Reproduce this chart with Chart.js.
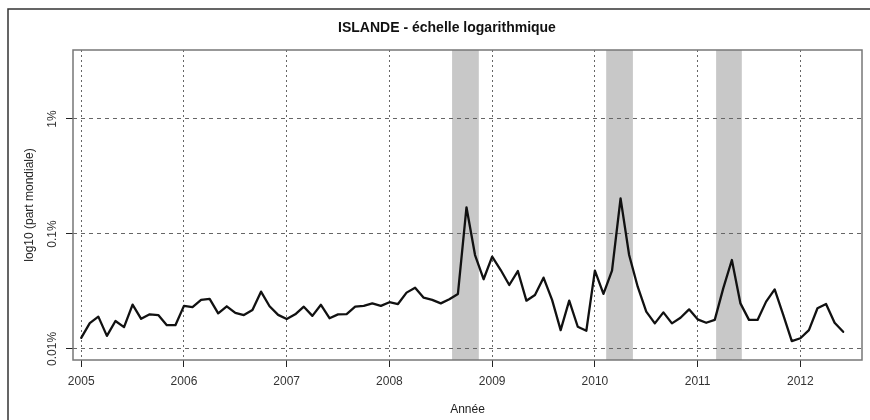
<!DOCTYPE html>
<html lang="fr">
<head>
<meta charset="utf-8">
<title>ISLANDE - échelle logarithmique</title>
<script src="https://cdn.jsdelivr.net/npm/chart.js@4.4.1/dist/chart.umd.min.js"></script>
<style>
  html, body { margin: 0; padding: 0; background: #fff; }
  #cadre { position: relative; width: 870px; height: 420px; }
</style>
</head>
<body>
<div id="cadre"><canvas id="graphique" width="870" height="420"></canvas></div>
<script>
// Données mensuelles, de janvier 2005 à juin 2012 (part mondiale en %)
const debut = 2005;
const annees = [2005, 2006, 2007, 2008, 2009, 2010, 2011, 2012];
const partMondiale = [
  0.0125, 0.0168, 0.0191, 0.0130, 0.0175, 0.0155, 0.0243, 0.0183, 0.0200, 0.0197, 0.0161, 0.0161,
  0.0237, 0.0231, 0.0267, 0.0273, 0.0204, 0.0235, 0.0206, 0.0197, 0.0218, 0.0315, 0.0235, 0.0198,
  0.0182, 0.0200, 0.0233, 0.0194, 0.0242, 0.0185, 0.0200, 0.0201, 0.0233, 0.0237, 0.0249, 0.0237,
  0.0255, 0.0246, 0.0309, 0.0341, 0.0279, 0.0267, 0.0249, 0.0271, 0.0301, 0.1706, 0.0656, 0.0404,
  0.0635, 0.0486, 0.0360, 0.0476, 0.0263, 0.0295, 0.0417, 0.0267, 0.0146, 0.0263, 0.0156, 0.0144,
  0.0480, 0.0301, 0.0480, 0.2042, 0.0656, 0.0348, 0.0211, 0.0167, 0.0208, 0.0167, 0.0187, 0.0221,
  0.0181, 0.0169, 0.0179, 0.0338, 0.0594, 0.0249, 0.0179, 0.0179, 0.0258, 0.0330, 0.0198, 0.0117,
  0.0124, 0.0146, 0.0226, 0.0246, 0.0169, 0.0141
];
// Périodes grisées (début, fin), en années
const periodes = [[2008.61, 2008.87], [2010.11, 2010.37], [2011.18, 2011.43]];
const ticksY = [0.01, 0.1, 1];
const labelsY = ['0.01%', '0.1%', '1%'];

const POLICE = '"Liberation Sans", Arial, sans-serif';
Chart.defaults.font.family = POLICE;
Chart.defaults.font.size = 12;
Chart.defaults.color = '#333';

const points = partMondiale.map((v, i) => ({ x: debut + i / 12, y: v }));

// Bandes grises + cadre extérieur, avant la grille
const fond = {
  id: 'fond',
  beforeDraw(chart) {
    const { ctx, chartArea, scales: { x } } = chart;
    ctx.save();
    ctx.fillStyle = '#c8c8c8';
    periodes.forEach(([a, b]) => {
      const x1 = x.getPixelForValue(a);
      const x2 = x.getPixelForValue(b);
      ctx.fillRect(x1, chartArea.top, x2 - x1, chartArea.bottom - chartArea.top);
    });
    ctx.strokeStyle = '#333';
    ctx.lineWidth = 1.5;
    ctx.beginPath();
    ctx.moveTo(8, 420);
    ctx.lineTo(8, 9);
    ctx.lineTo(870, 9);
    ctx.stroke();
    ctx.restore();
  }
};

// Boîte du graphique, titre et étiquettes verticales de l'axe y
const textes = {
  id: 'textes',
  afterDraw(chart) {
    const { ctx, chartArea, scales: { y } } = chart;
    ctx.save();
    ctx.strokeStyle = '#777';
    ctx.lineWidth = 1.5;
    ctx.strokeRect(chartArea.left, chartArea.top, chartArea.right - chartArea.left, chartArea.bottom - chartArea.top);

    ctx.fillStyle = '#111';
    ctx.font = 'bold 14px ' + POLICE;
    ctx.textAlign = 'center';
    ctx.textBaseline = 'middle';
    ctx.fillText('ISLANDE - échelle logarithmique', 447, 28);

    ctx.fillStyle = '#333';
    ctx.font = '12px ' + POLICE;
    ticksY.forEach((v, i) => {
      ctx.save();
      ctx.translate(53, y.getPixelForValue(v));
      ctx.rotate(-Math.PI / 2);
      ctx.fillText(labelsY[i], 0, 0);
      ctx.restore();
    });
    ctx.restore();
  }
};

new Chart(document.getElementById('graphique'), {
  type: 'line',
  data: {
    datasets: [{
      data: points,
      borderColor: '#111',
      borderWidth: 2.3,
      borderJoinStyle: 'round',
      borderCapStyle: 'round',
      pointRadius: 0,
      tension: 0,
      fill: false
    }]
  },
  options: {
    responsive: false,
    devicePixelRatio: 1,
    animation: false,
    layout: { padding: { top: 50, right: 8, left: 0, bottom: 0 } },
    plugins: {
      legend: { display: false },
      tooltip: { enabled: false },
      title: { display: false }
    },
    scales: {
      x: {
        type: 'linear',
        min: 2004.92,
        max: 2012.6,
        afterBuildTicks: s => { s.ticks = annees.map(v => ({ value: v })); },
        afterFit: s => { s.height = 60; },
        ticks: { padding: 7, maxRotation: 0, autoSkip: false, callback: v => String(v) },
        grid: { color: '#666', lineWidth: 1, tickLength: 7, tickColor: '#222', tickWidth: 1 },
        border: { display: false, dash: [2, 3] },
        title: { display: true, text: 'Année', color: '#222', padding: { top: 0, bottom: 3 } }
      },
      y: {
        type: 'logarithmic',
        min: Math.pow(10, -2.096),
        max: Math.pow(10, 0.6),
        afterBuildTicks: s => { s.ticks = ticksY.map(v => ({ value: v })); },
        afterFit: s => { s.width = 73; },
        ticks: { display: false },
        grid: { color: '#666', lineWidth: 1, tickLength: 7, tickColor: '#222', tickWidth: 1 },
        border: { display: false, dash: [4, 4] },
        title: { display: true, text: 'log10 (part mondiale)', color: '#222', padding: { top: 22, bottom: 0 } }
      }
    }
  },
  plugins: [fond, textes]
});
</script>
</body>
</html>
